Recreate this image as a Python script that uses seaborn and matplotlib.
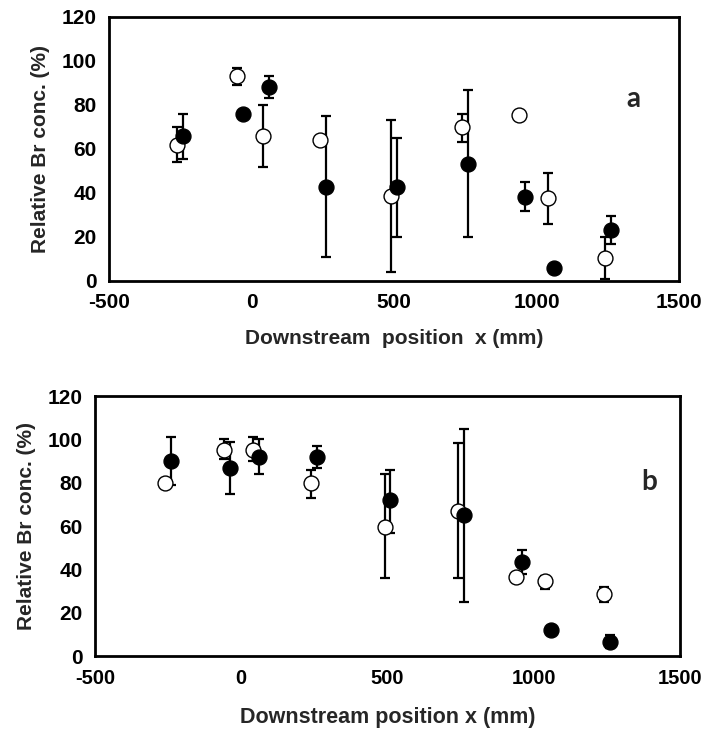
import matplotlib
matplotlib.use("Agg")
import matplotlib.pyplot as plt
import numpy as np
import pandas as pd
import seaborn as sns

sns.set_style("white")
plt.rcParams['font.family'] = ['Liberation Sans', 'DejaVu Sans']
plt.rcParams['axes.unicode_minus'] = False

# panel a
a_open_x = [-260, -50, 40, 240, 490, 740, 940, 1040, 1240]
a_open_y = [62, 93, 66, 64, 38.5, 70, 75.5, 37.5, 10.5]
a_open_lo = [54, 89, 52, 64, 4, 63, 75.5, 26, 1]
a_open_hi = [70, 97, 80, 64, 73, 76, 75.5, 49, 20]
a_fill_x = [-240, -30, 60, 260, 510, 760, 960, 1060, 1260]
a_fill_y = [66, 76, 88, 42.5, 42.5, 53, 38, 6, 23]
a_fill_lo = [55.5, 74, 83, 11, 20, 20, 32, 6, 17]
a_fill_hi = [76, 76, 93, 75, 65, 87, 45, 6, 29.5]

# panel b
b_open_x = [-260, -60, 40, 240, 490, 740, 940, 1040, 1240]
b_open_y = [80, 95, 95, 80, 59.5, 67, 36.5, 34.5, 28.5]
b_open_lo = [80, 91, 90, 73, 36, 36, 36.5, 31, 25]
b_open_hi = [80, 100, 101, 86, 84, 98.5, 36.5, 37, 32]
b_fill_x = [-240, -40, 60, 260, 510, 760, 960, 1060, 1260]
b_fill_y = [90, 87, 92, 92, 72, 65, 43.5, 12, 6.5]
b_fill_lo = [79, 75, 84, 87, 57, 25, 38, 10, 3.5]
b_fill_hi = [101, 99, 100, 97, 86, 105, 49, 14, 9.5]

fig = plt.figure(figsize=(7.04, 7.31), dpi=100)
ax_a = fig.add_axes([109 / 704, 1 - 281 / 731, (679 - 109) / 704, (281 - 17) / 731])
ax_b = fig.add_axes([95 / 704, 1 - 656 / 731, (680 - 95) / 704, (656 - 396) / 731])

panels = [
    (ax_a, a_open_x, a_open_y, a_open_lo, a_open_hi, a_fill_x, a_fill_y, a_fill_lo, a_fill_hi,
     'a', (0.92, 0.69)),
    (ax_b, b_open_x, b_open_y, b_open_lo, b_open_hi, b_fill_x, b_fill_y, b_fill_lo, b_fill_hi,
     'b', (0.947, 0.67)),
]

for ax, ox, oy, olo, ohi, fx, fy, flo, fhi, tag, tagpos in panels:
    oy_ = np.array(oy); fy_ = np.array(fy)
    ax.errorbar(ox, oy, yerr=[oy_ - np.array(olo), np.array(ohi) - oy_], fmt='none',
                ecolor='black', elinewidth=1.6, capsize=3.8, capthick=1.6, zorder=1)
    ax.errorbar(fx, fy, yerr=[fy_ - np.array(flo), np.array(fhi) - fy_], fmt='none',
                ecolor='black', elinewidth=1.6, capsize=3.8, capthick=1.6, zorder=1)
    sns.scatterplot(x=ox, y=oy, ax=ax, marker='o', s=115, facecolor='white',
                    edgecolor='black', linewidth=1.0, zorder=3)
    sns.scatterplot(x=fx, y=fy, ax=ax, marker='o', s=115, color='black',
                    edgecolor='black', linewidth=1.0, zorder=3)
    ax.set_xlim(-500, 1500)
    ax.set_ylim(0, 120)
    ax.set_xticks([-500, 0, 500, 1000, 1500])
    ax.set_yticks([0, 20, 40, 60, 80, 100, 120])
    for s in ax.spines.values():
        s.set_linewidth(2)
        s.set_color('black')
    ax.tick_params(axis='both', direction='out', length=5, width=1.0, labelsize=15,
                   colors='black', pad=4)
    for lab in ax.get_xticklabels() + ax.get_yticklabels():
        lab.set_fontweight('bold')
    ax.set_ylabel("Relative Br conc. (%)", fontsize=15, fontweight='bold', labelpad=8)
    ax.text(tagpos[0], tagpos[1], tag, transform=ax.transAxes, fontsize=20, fontweight='bold',
            family=['Lato', 'DejaVu Sans'], ha='center', va='center')

ax_a.set_xlabel("Downstream  position  x (mm)", fontsize=15, fontweight='bold', labelpad=12)
ax_b.set_xlabel("Downstream position x (mm)", fontsize=15.5, fontweight='bold', labelpad=14)
ax_b.tick_params(axis='x', labelsize=14.5)

fig.savefig("out.png", dpi=100)
